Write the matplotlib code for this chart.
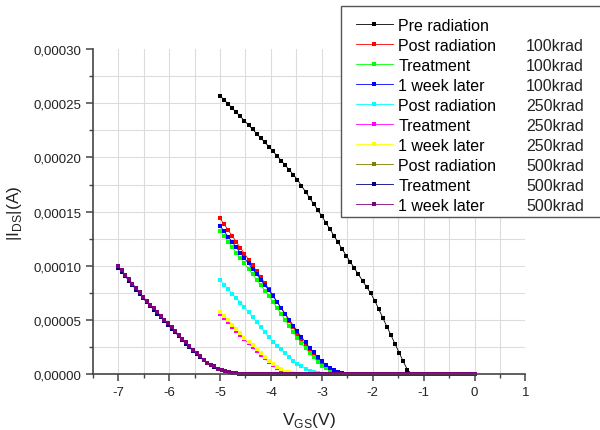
import numpy as np
import matplotlib
matplotlib.use("Agg")
import matplotlib.pyplot as plt
from matplotlib.patches import Rectangle
from matplotlib.ticker import FuncFormatter, MultipleLocator

plt.rcParams["font.family"] = ["Liberation Sans", "DejaVu Sans"]
plt.rcParams["mathtext.fontset"] = "custom"
plt.rcParams["mathtext.rm"] = "Liberation Sans"
plt.rcParams["axes.unicode_minus"] = False

# gate voltage sweeps (V)
vgs_5 = np.round(np.arange(63) * 0.08 - 5.0, 2)    # -5 .. -0.04
vgs_7 = np.round(np.arange(101) * 0.07 - 7.0, 2)   # -7 .. 0

# |I_DS|, units of 1e-5 A; after the listed points the current is 0
pre = [25.70, 25.32, 24.93, 24.55, 24.16, 23.78, 23.40, 23.00, 22.60, 22.20,
       21.80, 21.40, 21.00, 20.58, 20.15, 19.72, 19.29, 18.86, 18.42, 17.96,
       17.40, 16.84, 16.28, 15.72, 15.16, 14.60, 13.99, 13.38, 12.78, 12.17,
       11.56, 10.95, 10.37, 9.79, 9.22, 8.64, 8.06, 7.49, 6.80, 6.00,
       5.20, 4.40, 3.60, 2.80, 2.00, 1.20, 0.45, 0.08, 0.02]
post_100 = [14.40, 13.86, 13.31, 12.77, 12.22, 11.68, 11.14, 10.59, 10.05, 9.50,
            8.96, 8.42, 7.87, 7.30, 6.71, 6.12, 5.53, 4.94, 4.34, 3.76,
            3.22, 2.68, 2.16, 1.73, 1.32, 0.90, 0.66, 0.42, 0.25, 0.15,
            0.06, 0.03, 0.01]
treat_100 = [13.25, 12.75, 12.24, 11.74, 11.23, 10.73, 10.23, 9.73, 9.23, 8.74,
             8.24, 7.74, 7.25, 6.72, 6.16, 5.60, 5.04, 4.48, 3.92, 3.38,
             2.90, 2.42, 1.95, 1.57, 1.18, 0.80, 0.57, 0.35, 0.21, 0.13,
             0.05, 0.02, 0.01]
week_100 = [13.70, 13.20, 12.71, 12.21, 11.72, 11.22, 10.72, 10.23, 9.73, 9.24,
            8.74, 8.24, 7.75, 7.23, 6.69, 6.14, 5.60, 5.06, 4.51, 3.97,
            3.46, 2.95, 2.45, 2.03, 1.62, 1.20, 0.92, 0.64, 0.42, 0.27,
            0.12, 0.07, 0.03, 0.01]
post_250 = [8.70, 8.28, 7.87, 7.45, 7.04, 6.62, 6.20, 5.75, 5.29, 4.82,
            4.36, 3.90, 3.43, 3.02, 2.67, 2.32, 1.97, 1.62, 1.26, 0.95,
            0.74, 0.53, 0.34, 0.24, 0.15, 0.06, 0.03, 0.01]
treat_250 = [5.62, 5.22, 4.82, 4.42, 4.02, 3.62, 3.23, 2.87, 2.52, 2.18,
             1.84, 1.50, 1.17, 0.88, 0.64, 0.41, 0.24, 0.16, 0.09, 0.04,
             0.02, 0.01]
week_250 = [5.80, 5.40, 5.00, 4.60, 4.20, 3.80, 3.40, 3.03, 2.68, 2.33,
            1.97, 1.62, 1.28, 0.97, 0.72, 0.46, 0.27, 0.19, 0.11, 0.05,
            0.02, 0.01]
post_500 = [9.92, 9.52, 9.11, 8.71, 8.30, 7.90, 7.49, 7.09, 6.73, 6.38,
            6.03, 5.68, 5.33, 4.98, 4.63, 4.28, 3.93, 3.58, 3.23, 2.89,
            2.55, 2.20, 1.90, 1.62, 1.34, 1.07, 0.89, 0.72, 0.54, 0.41,
            0.33, 0.25, 0.17, 0.12, 0.09, 0.06, 0.04, 0.03, 0.02, 0.01]
treat_500 = [9.85, 9.45, 9.05, 8.64, 8.24, 7.83, 7.43, 7.03, 6.67, 6.32,
             5.97, 5.62, 5.27, 4.92, 4.57, 4.22, 3.88, 3.53, 3.18, 2.84,
             2.50, 2.16, 1.86, 1.58, 1.31, 1.05, 0.87, 0.70, 0.53, 0.40,
             0.32, 0.25, 0.17, 0.12, 0.08, 0.06, 0.04, 0.03, 0.02, 0.01]
week_500 = [10.00, 9.59, 9.19, 8.78, 8.38, 7.97, 7.56, 7.16, 6.80, 6.45,
            6.10, 5.75, 5.40, 5.05, 4.70, 4.35, 4.00, 3.65, 3.30, 2.95,
            2.60, 2.25, 1.94, 1.66, 1.38, 1.10, 0.92, 0.74, 0.55, 0.42,
            0.34, 0.26, 0.17, 0.13, 0.09, 0.06, 0.04, 0.03, 0.02, 0.01]

names = ["Pre radiation", "Post radiation", "Treatment", "1 week later",
         "Post radiation", "Treatment", "1 week later",
         "Post radiation", "Treatment", "1 week later"]
doses = ["", "100krad", "100krad", "100krad", "250krad", "250krad", "250krad",
         "500krad", "500krad", "500krad"]
colors = ["#000000", "#ff0000", "#00ff00", "#0000ff", "#00ffff", "#ff00ff",
          "#ffff00", "#808000", "#000080", "#800080"]
series = [(vgs_5, pre), (vgs_5, post_100), (vgs_5, treat_100), (vgs_5, week_100),
          (vgs_5, post_250), (vgs_5, treat_250), (vgs_5, week_250),
          (vgs_7, post_500), (vgs_7, treat_500), (vgs_7, week_500)]


def full(x, vals):
    v = np.concatenate([vals, np.zeros(len(x) - len(vals))])
    return v * 1e-5


fig = plt.figure(figsize=(6, 4.31), dpi=100)
ax = fig.add_axes([0.1545, 0.1288, 0.7213, 0.7552])

for gx in np.arange(-7, 0.75, 0.5):
    ax.axvline(gx, color="#dcdcdc", lw=0.8, zorder=0)
for gy in np.arange(1, 12) * 0.000025:
    ax.axhline(gy, color="#dcdcdc", lw=0.8, zorder=0)

handles = []
for (x, vals), name, c in zip(series, names, colors):
    h, = ax.plot(x, full(x, vals), color=c, lw=0.6, marker="s", ms=3.0,
                 mew=0, label=name, clip_on=False)
    handles.append(h)

ax.set_xlim(-7.5, 1)
ax.set_ylim(0, 0.0003)
ax.xaxis.set_major_locator(MultipleLocator(1))
ax.xaxis.set_minor_locator(MultipleLocator(0.5))
ax.yaxis.set_major_locator(MultipleLocator(0.00005))
ax.yaxis.set_minor_locator(MultipleLocator(0.000025))
ax.yaxis.set_major_formatter(FuncFormatter(lambda v, p: f"{v:.5f}".replace(".", ",")))
ax.xaxis.set_major_formatter(FuncFormatter(lambda v, p: f"{v:g}"))

for s in ("top", "right"):
    ax.spines[s].set_visible(False)
for s in ("left", "bottom"):
    ax.spines[s].set_color("#444444")
    ax.spines[s].set_linewidth(1.2)
ax.tick_params(which="major", direction="out", length=5, width=1.1, color="#444444",
               labelsize=9.5, labelcolor="#222222", pad=3)
ax.tick_params(which="minor", direction="out", length=3, width=1.0, color="#444444")

ax.set_xlabel(r"V$_{\mathregular{GS}}$(V)", fontsize=12.5, color="#222222")
ax.set_ylabel(r"|I$_{\mathregular{DS}}$|(A)", fontsize=12.5, color="#222222")
ax.xaxis.set_label_coords(0.5, -0.11)
ax.yaxis.set_label_coords(-0.158, 0.5)

# legend box
fig.patches.append(Rectangle((341 / 600, 1 - 218 / 431), 270 / 600, 211 / 431,
                             transform=fig.transFigure, facecolor="white",
                             edgecolor="#555555", lw=1.0, zorder=4))
leg = fig.legend(handles=handles, loc="upper left",
                 bbox_to_anchor=(356 / 600, 1 - 19 / 431), frameon=False,
                 fontsize=11.5, borderpad=0, borderaxespad=0, handlelength=2.3,
                 handletextpad=0.35, labelspacing=0.31, markerscale=1.1)
leg.set_zorder(5)

fig.canvas.draw()
for txt, d in zip(leg.get_texts(), doses):
    if not d:
        continue
    bb = txt.get_window_extent()
    fig.text(526 / 600, (bb.y0 + bb.y1) / 2 / fig.bbox.height, d, fontsize=11.5,
             va="center", ha="left", color="#222222", zorder=6)

fig.savefig("out.png", dpi=100)
